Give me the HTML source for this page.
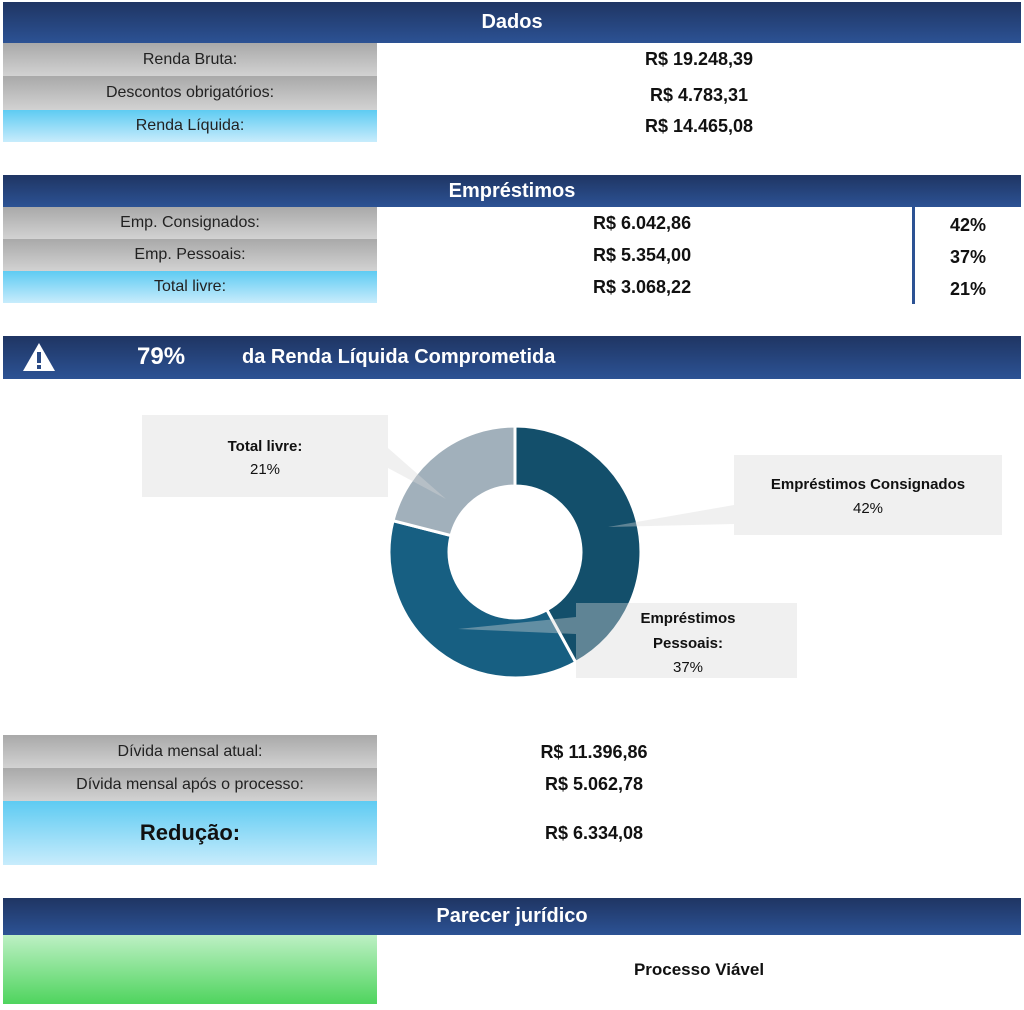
<!DOCTYPE html>
<html><head><meta charset="utf-8"><style>
body{margin:0;width:1024px;height:1010px;background:#fff;position:relative;overflow:hidden;font-family:"Liberation Sans",sans-serif;}
.a{position:absolute;box-sizing:border-box;}
.hd{left:3px;width:1018px;background:linear-gradient(#1f3563,#2c5294);color:#fff;font-weight:bold;font-size:20px;display:flex;align-items:center;justify-content:center;}
.g{left:3px;width:374px;background:linear-gradient(#a9a9a9,#d2d2d2);font-size:16px;color:#222;display:flex;align-items:center;justify-content:center;}
.b{left:3px;width:374px;background:linear-gradient(#5ecbf2,#c8ecfc);font-size:16px;color:#222;display:flex;align-items:center;justify-content:center;}
.v{font-weight:bold;font-size:18px;color:#111;display:flex;align-items:center;justify-content:center;}
</style></head><body>
<div class="a hd" style="top:2px;height:41px">Dados</div>
<div class="a g" style="top:43px;height:33px">Renda Bruta:</div>
<div class="a g" style="top:76px;height:34px">Descontos obrigatórios:</div>
<div class="a b" style="top:110px;height:32px">Renda Líquida:</div>
<div class="a v" style="left:377px;width:644px;top:43px;height:33px">R$ 19.248,39</div>
<div class="a v" style="left:377px;width:644px;top:78px;height:34px">R$ 4.783,31</div>
<div class="a v" style="left:377px;width:644px;top:110px;height:32px">R$ 14.465,08</div>

<div class="a hd" style="top:175px;height:32px">Empréstimos</div>
<div class="a g" style="top:207px;height:32px">Emp. Consignados:</div>
<div class="a g" style="top:239px;height:32px">Emp. Pessoais:</div>
<div class="a b" style="top:271px;height:32px">Total livre:</div>
<div class="a v" style="left:377px;width:568px;top:207px;height:32px;justify-content:flex-start;padding-left:216px">R$ 6.042,86</div>
<div class="a v" style="left:377px;width:568px;top:239px;height:32px;justify-content:flex-start;padding-left:216px">R$ 5.354,00</div>
<div class="a v" style="left:377px;width:568px;top:271px;height:32px;justify-content:flex-start;padding-left:216px">R$ 3.068,22</div>
<div class="a" style="left:912px;top:207px;width:3px;height:97px;background:#2c5294"></div>
<div class="a v" style="left:915px;width:106px;top:209px;height:32px">42%</div>
<div class="a v" style="left:915px;width:106px;top:241px;height:32px">37%</div>
<div class="a v" style="left:915px;width:106px;top:273px;height:32px">21%</div>

<div class="a hd" style="top:336px;height:43px;justify-content:flex-start"></div>
<svg class="a" style="left:22px;top:342px" width="34" height="30"><polygon points="17,1 33,29 1,29" fill="#fff"/><rect x="15" y="10" width="4" height="11" fill="#2a4a85"/><rect x="15" y="23" width="4" height="4" fill="#2a4a85"/></svg>
<div class="a" style="left:137px;top:343px;color:#fff;font-weight:bold;font-size:24px">79%</div>
<div class="a" style="left:242px;top:346px;color:#fff;font-weight:bold;font-size:20px">da Renda Líquida Comprometida</div>

<svg class="a" style="left:0;top:0" width="1024" height="1010">
<path d="M515,426 A126,126 0 0 1 575.7,662.4 L546.8,609.8 A66,66 0 0 0 515,486 Z" fill="#134f6b" stroke="#fff" stroke-width="3"/>
<path d="M575.7,662.4 A126,126 0 0 1 393,520.7 L451.1,535.6 A66,66 0 0 0 546.8,609.8 Z" fill="#175f82" stroke="#fff" stroke-width="3"/>
<path d="M393,520.7 A126,126 0 0 1 515,426 L515,486 A66,66 0 0 0 451.1,535.6 Z" fill="#a1b0bb" stroke="#fff" stroke-width="3"/>
<g fill="#d8d8d8" fill-opacity="0.39">
<path d="M142,415 H388 V448 L446,499 L388,468 V497 H142 Z"/>
<path d="M734,455 H1002 V535 H734 V524 L608,527 L734,505 Z"/>
<path d="M576,603 H797 V678 H576 V634 L458,629 L576,617 Z"/>
</g>
<g font-family="Liberation Sans,sans-serif" font-size="15" fill="#111" text-anchor="middle">
<text x="265" y="451" font-weight="bold">Total livre:</text><text x="265" y="474">21%</text>
<text x="868" y="489" font-weight="bold">Empréstimos Consignados</text><text x="868" y="513">42%</text>
<text x="688" y="623" font-weight="bold">Empréstimos</text><text x="688" y="648" font-weight="bold">Pessoais:</text><text x="688" y="672">37%</text>
</g>
</svg>

<div class="a g" style="top:735px;height:33px">Dívida mensal atual:</div>
<div class="a g" style="top:768px;height:33px">Dívida mensal após o processo:</div>
<div class="a b" style="top:801px;height:64px;font-size:22px;font-weight:bold;color:#111">Redução:</div>
<div class="a v" style="left:377px;width:434px;top:735px;height:35px">R$ 11.396,86</div>
<div class="a v" style="left:377px;width:434px;top:768px;height:33px">R$ 5.062,78</div>
<div class="a v" style="left:377px;width:434px;top:801px;height:64px">R$ 6.334,08</div>

<div class="a hd" style="top:898px;height:37px">Parecer jurídico</div>
<div class="a" style="left:3px;width:374px;top:935px;height:69px;background:linear-gradient(#bdf0c4,#4fd45e)"></div>
<div class="a v" style="left:377px;width:644px;top:935px;height:69px;font-size:17px">Processo Viável</div>
</body></html>
